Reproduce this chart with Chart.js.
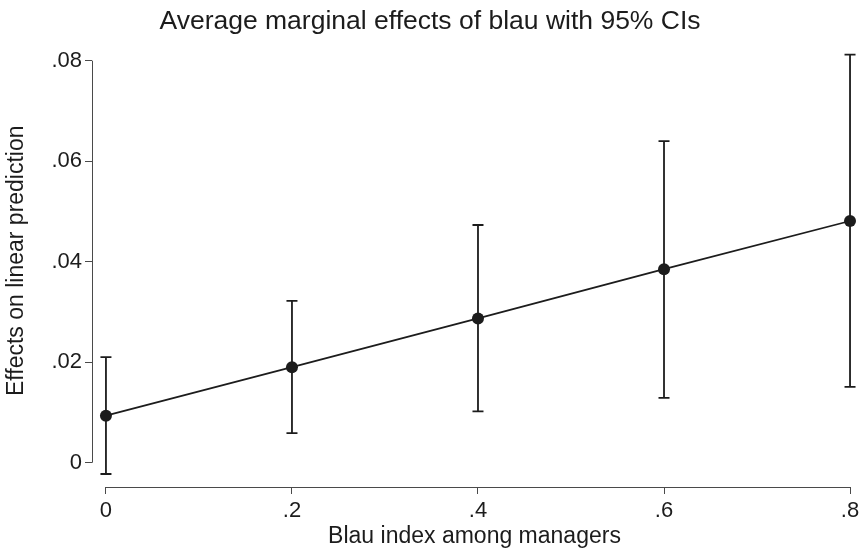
<!DOCTYPE html>
<html>
<head>
<meta charset="utf-8">
<script src="https://cdn.jsdelivr.net/npm/chart.js@4/dist/chart.umd.min.js"></script>
<style>
  html, body { margin: 0; padding: 0; background: #fff; }
  #wrap { width: 863px; height: 550px; }
</style>
</head>
<body>
<div id="wrap"><canvas id="c" width="863" height="550"></canvas></div>
<script>
// ---- data ----
const xValues     = [0, 0.2, 0.4, 0.6, 0.8];
const xTickLabels = ['0', '.2', '.4', '.6', '.8'];
const effects     = [0.00935, 0.0190, 0.0287, 0.0385, 0.0481];
const ciLower     = [-0.00225, 0.0059, 0.0102, 0.0129, 0.0151];
const ciUpper     = [0.0210, 0.0322, 0.0473, 0.0640, 0.0812];
const yTickValues = [0, 0.02, 0.04, 0.06, 0.08];
const yTickLabels = ['0', '.02', '.04', '.06', '.08'];

const titleText  = 'Average marginal effects of blau with 95% CIs';
const xAxisTitle = 'Blau index among managers';
const yAxisTitle = 'Effects on linear prediction';

const FONT = '"Liberation Sans", Arial, Helvetica, sans-serif';
const INK = '#1c1c1c';
const AXIS = '#4a4a4a';

const errorBars = {
  id: 'errorBars',
  beforeDatasetsDraw(chart) {
    const {ctx, scales: {x, y}} = chart;
    ctx.save();
    ctx.strokeStyle = INK;
    ctx.lineWidth = 1.8;
    ctx.lineCap = 'butt';
    xValues.forEach((xv, i) => {
      const px = x.getPixelForValue(xv);
      const lo = y.getPixelForValue(ciLower[i]);
      const hi = y.getPixelForValue(ciUpper[i]);
      ctx.beginPath();
      ctx.moveTo(px, lo); ctx.lineTo(px, hi);
      ctx.moveTo(px - 5.5, lo); ctx.lineTo(px + 5.5, lo);
      ctx.moveTo(px - 5.5, hi); ctx.lineTo(px + 5.5, hi);
      ctx.stroke();
    });
    ctx.restore();
  }
};

const axisLines = {
  id: 'axisLines',
  afterDraw(chart) {
    const {ctx, scales: {x, y}} = chart;
    ctx.save();
    ctx.strokeStyle = AXIS;
    ctx.lineWidth = 1;
    const yl = Math.round(y.right) + 0.5;
    ctx.beginPath();
    ctx.moveTo(yl, y.getPixelForValue(yTickValues[0]));
    ctx.lineTo(yl, y.getPixelForValue(yTickValues[yTickValues.length - 1]));
    ctx.stroke();
    const xl = Math.round(x.top) + 0.5;
    ctx.beginPath();
    ctx.moveTo(x.getPixelForValue(xValues[0]), xl);
    ctx.lineTo(x.getPixelForValue(xValues[xValues.length - 1]), xl);
    ctx.stroke();
    ctx.restore();
  }
};

new Chart(document.getElementById('c'), {
  type: 'line',
  data: {
    datasets: [{
      data: xValues.map((xv, i) => ({x: xv, y: effects[i]})),
      borderColor: INK,
      borderWidth: 1.8,
      pointRadius: 6,
      pointHoverRadius: 6,
      pointBackgroundColor: INK,
      pointBorderWidth: 0,
      tension: 0,
      fill: false,
      clip: false
    }]
  },
  options: {
    responsive: false,
    devicePixelRatio: 1,
    animation: false,
    events: [],
    layout: { padding: { top: 0, right: 3, bottom: 0, left: 0 } },
    plugins: {
      legend: { display: false },
      tooltip: { enabled: false },
      title: {
        display: true,
        text: titleText,
        color: INK,
        font: { family: FONT, size: 26.5, weight: 'normal', lineHeight: 1.0 },
        padding: { top: 8, bottom: 0 }
      }
    },
    scales: {
      x: {
        type: 'linear',
        min: -0.015,
        max: 0.8075,
        afterBuildTicks(scale) { scale.ticks = xValues.map(v => ({value: v})); },
        afterFit(scale) { scale.height = 63; scale.paddingLeft = 0; scale.paddingRight = 0; },
        border: { display: false },
        grid: { display: true, drawOnChartArea: false, drawTicks: true, tickLength: 7, color: AXIS, tickWidth: 1 },
        ticks: {
          color: INK,
          font: { family: FONT, size: 22 },
          padding: 4,
          maxRotation: 0,
          autoSkip: false,
          callback(value) { const i = xValues.indexOf(value); return i >= 0 ? xTickLabels[i] : ''; }
        },
        title: {
          display: true,
          text: xAxisTitle,
          color: INK,
          font: { family: FONT, size: 23 },
          padding: { top: 0, bottom: 0 }
        }
      },
      y: {
        type: 'linear',
        min: -0.004836,
        max: 0.085214,
        afterBuildTicks(scale) { scale.ticks = yTickValues.map(v => ({value: v})); },
        afterFit(scale) { scale.width = 92; scale.paddingTop = 0; scale.paddingBottom = 0; },
        border: { display: false },
        grid: { display: true, drawOnChartArea: false, drawTicks: true, tickLength: 7, color: AXIS, tickWidth: 1 },
        ticks: {
          color: INK,
          font: { family: FONT, size: 22 },
          padding: 3,
          autoSkip: false,
          callback(value) { const i = yTickValues.indexOf(value); return i >= 0 ? yTickLabels[i] : ''; }
        },
        title: {
          display: true,
          text: yAxisTitle,
          color: INK,
          font: { family: FONT, size: 23 },
          padding: { top: 3, bottom: 0 }
        }
      }
    }
  },
  plugins: [errorBars, axisLines]
});
</script>
</body>
</html>
